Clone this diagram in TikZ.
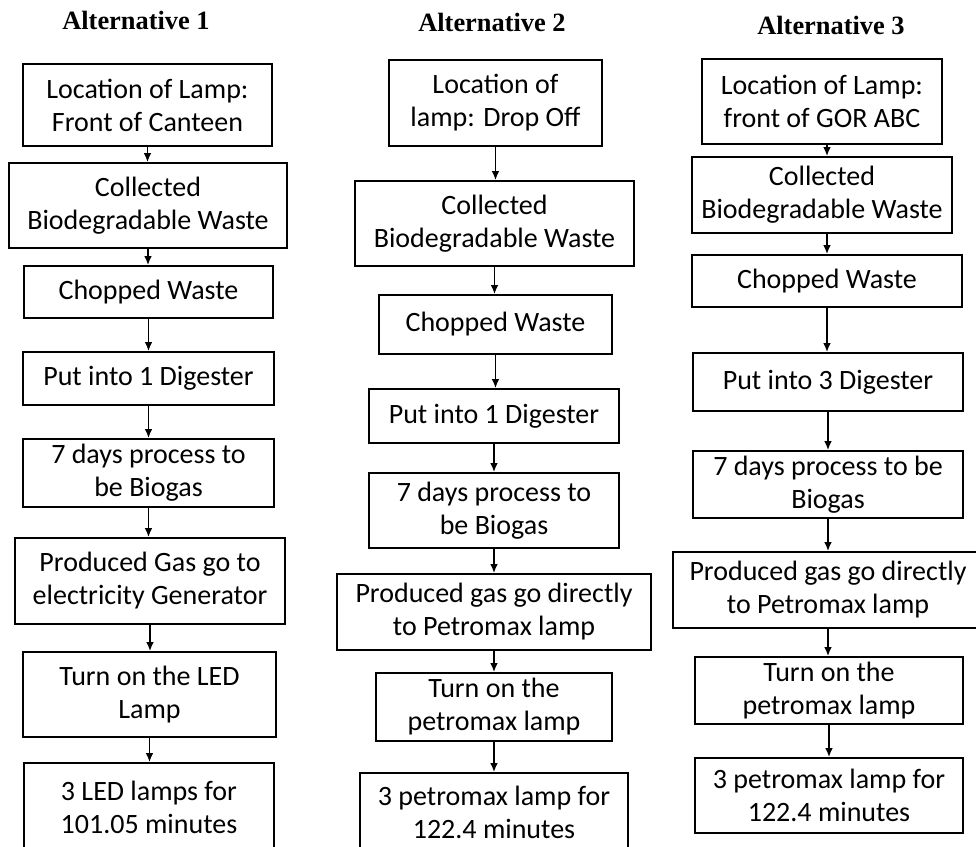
\documentclass[tikz,border=0pt]{standalone}
\usepackage{fontspec}
\setmainfont{Carlito}
\newfontfamily\titlefont{Liberation Serif}
\usetikzlibrary{arrows.meta}

\begin{document}
\begin{tikzpicture}[x=0.5pt, y=-0.5pt,
    stage/.style = {draw, line width=0.8pt, align=center, inner sep=0pt,
      font=\fontsize{14}{16.5}\selectfont},
    flow/.style = {-{Latex[length=4.5pt, width=3.8pt]}, line width=0.9pt},
    heading/.style = {font=\titlefont\bfseries\fontsize{13.2}{15}\selectfont}]
  \useasboundingbox (0, 0) rectangle (976, 847);

  \node [heading] (t1) at (136, 20) {Alternative 1};
  \node [heading] (t2) at (492, 22) {Alternative 2};
  \node [heading] (t3) at (831, 25) {Alternative 3};

  % alternative 1
  \node [stage, minimum width=124.5pt, minimum height=41pt] (a1) at (147.5, 105)
    {Location of Lamp:\\Front of Canteen};
  \node [stage, minimum width=139pt, minimum height=42.5pt] (a2) at (148, 205.5)
    {Collected\\Biodegradable Waste};
  \node [stage, minimum width=124.5pt, minimum height=26pt] (a3) at (148.5, 292)
    {Chopped Waste};
  \node [stage, minimum width=125.5pt, minimum height=26.5pt] (a4) at (148.5, 378.5)
    {Put into 1 Digester};
  \node [stage, minimum width=125.5pt, minimum height=34pt] (a5) at (148.5, 473)
    {7 days process to\\be Biogas};
  \node [stage, minimum width=135pt, minimum height=43pt] (a6) at (150, 581)
    {Produced Gas go to\\electricity Generator};
  \node [stage, minimum width=126.5pt, minimum height=42.5pt] (a7) at (149.5, 694.5)
    {Turn on the LED\\Lamp};
  \node [stage, minimum width=125pt, minimum height=44.5pt] (a8) at (149, 807.5)
    {3 LED lamps for\\101.05 minutes};

  % alternative 2
  \node [stage, minimum width=106.5pt, minimum height=43pt] (b1) at (495.5, 103)
    {Location of\\lamp: Drop Off};
  \node [stage, minimum width=139.5pt, minimum height=42.5pt] (b2) at (494.5, 223.5)
    {Collected\\Biodegradable Waste};
  \node [stage, minimum width=116.5pt, minimum height=29.5pt] (b3) at (495.5, 324.5)
    {Chopped Waste};
  \node [stage, minimum width=125pt, minimum height=27pt] (b4) at (494, 416)
    {Put into 1 Digester};
  \node [stage, minimum width=125pt, minimum height=37.5pt] (b5) at (494, 510.5)
    {7 days process to\\be Biogas};
  \node [stage, minimum width=157pt, minimum height=38pt] (b6) at (494, 612)
    {Produced gas go directly\\to Petromax lamp};
  \node [stage, minimum width=118pt, minimum height=34pt] (b7) at (494, 707)
    {Turn on the\\petromax lamp};
  \node [stage, minimum width=134pt, minimum height=39.5pt] (b8) at (494, 812.5)
    {3 petromax lamp for\\122.4 minutes};

  % alternative 3
  \node [stage, minimum width=120pt, minimum height=42.5pt] (c1) at (822, 101.5)
    {Location of Lamp:\\front of GOR ABC};
  \node [stage, minimum width=130pt, minimum height=38pt] (c2) at (822, 195)
    {Collected\\Biodegradable Waste};
  \node [stage, minimum width=135pt, minimum height=26pt] (c3) at (827, 281)
    {Chopped Waste};
  \node [stage, minimum width=135pt, minimum height=29pt] (c4) at (828, 382)
    {Put into 3 Digester};
  \node [stage, minimum width=135pt, minimum height=33.5pt] (c5) at (828, 484.5)
    {7 days process to be\\Biogas};
  \node [stage, minimum width=155pt, minimum height=38pt] (c6) at (828, 590)
    {Produced gas go directly\\to Petromax lamp};
  \node [stage, minimum width=134pt, minimum height=33.5pt] (c7) at (829, 690.5)
    {Turn on the\\petromax lamp};
  \node [stage, minimum width=134pt, minimum height=37.5pt] (c8) at (829, 795.5)
    {3 petromax lamp for\\122.4 minutes};

  \draw [flow] (a1.south) -- (a1.south |- a2.north);
  \draw [flow] (a2.south) -- (a2.south |- a3.north);
  \draw [flow] (a3.south) -- (a3.south |- a4.north);
  \draw [flow] (a4.south) -- (a4.south |- a5.north);
  \draw [flow] (a5.south) -- (a5.south |- a6.north);
  \draw [flow] (a6.south) -- (a6.south |- a7.north);
  \draw [flow] (a7.south) -- (a7.south |- a8.north);

  \draw [flow] (b1.south) -- (b1.south |- b2.north);
  \draw [flow] (b2.south) -- (b2.south |- b3.north);
  \draw [flow] (b3.south) -- (b3.south |- b4.north);
  \draw [flow] (b4.south) -- (b4.south |- b5.north);
  \draw [flow] (b5.south) -- (b5.south |- b6.north);
  \draw [flow] (b6.south) -- (b6.south |- b7.north);
  \draw [flow] (b7.south) -- (b7.south |- b8.north);

  \draw [flow] (c1.south -| c3.north) -- (c3.north |- c2.north);
  \draw [flow] (c2.south -| c3.north) -- (c3.north);
  \draw [flow] (c3.south) -- (c3.south |- c4.north);
  \draw [flow] (c4.south) -- (c4.south |- c5.north);
  \draw [flow] (c5.south) -- (c5.south |- c6.north);
  \draw [flow] (c6.south) -- (c6.south |- c7.north);
  \draw [flow] (c7.south) -- (c7.south |- c8.north);
\end{tikzpicture}
\end{document}
